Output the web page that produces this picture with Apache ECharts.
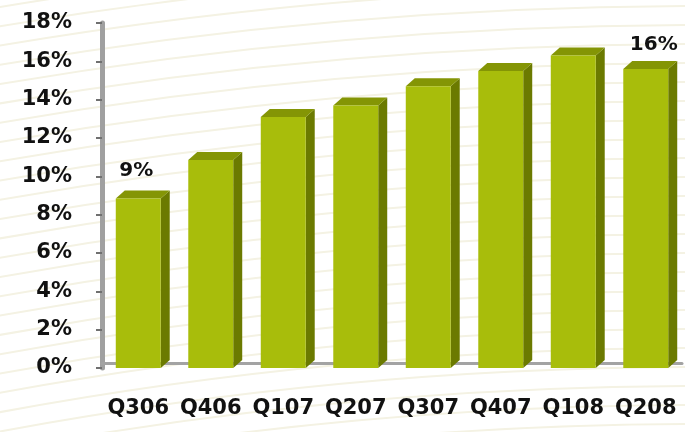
<!DOCTYPE html>
<html><head><meta charset="utf-8">
<script src="https://cdn.jsdelivr.net/npm/echarts@6/dist/echarts.min.js"></script>
<style>html,body{margin:0;padding:0;background:#fff}#c{width:685px;height:432px}</style>
</head><body><div id="c"></div>
<script>
// ---- data ----
const quarters = ['Q306','Q406','Q107','Q207','Q307','Q407','Q108','Q208'];
const shareValues = [8.85, 10.85, 13.1, 13.7, 14.7, 15.5, 16.3, 15.6];
const barLabels = ['9%','','','','','','','16%'];
const yMin = 0, yMax = 18, yStep = 2;

// ---- style ----
const FONT = '"DejaVu Sans", Verdana, sans-serif';
const FRONT = '#a8bd0b', SIDE = '#6b7a00', TOP = '#849505';
const DX = 9, DY = 8;

// decorative background arcs
const bg = [];
for (let k = 0; k < 40; k++) {
  bg.push({
    type: 'circle', silent: true, z: -10,
    shape: { cx: 700, cy: 4200, r: 3700 + k * 19 },
    style: { fill: null, stroke: '#f4f2e3', lineWidth: 2 }
  });
}

const chart = echarts.init(document.getElementById('c'), null, { renderer: 'canvas' });
chart.setOption({
  backgroundColor: '#ffffff',
  animation: false,
  graphic: bg,
  grid: { left: 102, right: 3, top: 23, bottom: 64, containLabel: false },
  xAxis: [{
    type: 'category', data: quarters,
    axisLine: { show: false }, axisTick: { show: false },
    axisLabel: { interval: 0, margin: 30, fontFamily: FONT, fontWeight: 'bold', fontSize: 21, color: '#111' }
  }, {
    type: 'category', data: quarters, position: 'bottom', offset: -5,
    axisLine: { show: true, lineStyle: { color: '#a3a3a3', width: 3 } },
    axisTick: { show: false }, axisLabel: { show: false }
  }],
  yAxis: {
    type: 'value', min: yMin, max: yMax, interval: yStep,
    splitLine: { show: false },
    axisLine: { show: true, lineStyle: { color: '#a0a0a0', width: 5 } },
    axisTick: { show: true, inside: false, length: 6, lineStyle: { color: '#707070', width: 2 } },
    axisLabel: { margin: 30, formatter: '{value}%', fontFamily: FONT, fontWeight: 'bold', fontSize: 21, color: '#111' }
  },
  series: [{
    type: 'custom',
    xAxisIndex: 0,
    encode: { x: 0, y: 1 },
    data: shareValues.map((v, i) => [i, v]),
    renderItem: function (params, api) {
      const i = api.value(0), v = api.value(1);
      const base = api.coord([i, 0]);
      const top = api.coord([i, v]);
      const bw = api.size([1, 0])[0] * 0.62;
      const xl = base[0] - bw / 2, xr = base[0] + bw / 2;
      const yb = base[1], yt = top[1];
      const children = [
        { type: 'polygon', shape: { points: [[xr, yt], [xr + DX, yt - DY], [xr + DX, yb - DY], [xr, yb]] }, style: { fill: SIDE } },
        { type: 'polygon', shape: { points: [[xl, yt], [xl + DX, yt - DY], [xr + DX, yt - DY], [xr, yt]] }, style: { fill: TOP } },
        { type: 'rect', shape: { x: xl, y: yt, width: bw, height: yb - yt }, style: { fill: FRONT } }
      ];
      const lab = barLabels[i];
      if (lab) {
        children.push({
          type: 'text', x: base[0] + (i === 0 ? -2 : 8), y: yt - DY - (i === 0 ? 10 : 6),
          style: { text: lab, font: 'bold 20px ' + FONT, fill: '#111', align: 'center', verticalAlign: 'bottom' }
        });
      }
      return { type: 'group', children: children };
    }
  }]
});
</script>
</body></html>
